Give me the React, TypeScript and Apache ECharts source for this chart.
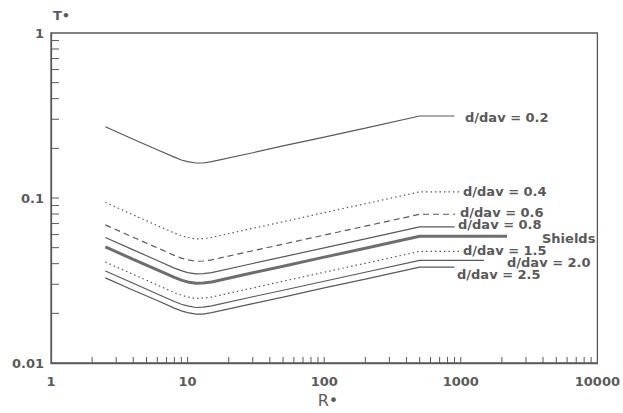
import React, { useEffect, useRef } from "react";
import * as echarts from "echarts";

// Reynolds-number abscissa points shared by all curves
const rStar = [2.5, 4, 6, 8, 9, 10, 11.5, 13, 15, 30, 50, 100, 200, 500];

const d02 = [0.27, 0.227, 0.196, 0.177, 0.17, 0.166, 0.163, 0.163, 0.166, 0.188, 0.207, 0.234, 0.265, 0.314];
const d04 = [0.094, 0.079, 0.068, 0.0614, 0.0591, 0.0577, 0.0565, 0.0567, 0.0577, 0.0655, 0.0718, 0.0815, 0.0923, 0.109];
const d06 = [0.0687, 0.0578, 0.0499, 0.0449, 0.0432, 0.0422, 0.0413, 0.0415, 0.0422, 0.0479, 0.0525, 0.0596, 0.0675, 0.0797];
const d08 = [0.0576, 0.0485, 0.0418, 0.0376, 0.0363, 0.0353, 0.0347, 0.0348, 0.0353, 0.0401, 0.044, 0.0499, 0.0565, 0.0668];
const shields = [0.0505, 0.0425, 0.0367, 0.033, 0.0318, 0.031, 0.0304, 0.0305, 0.031, 0.0352, 0.0386, 0.0438, 0.0496, 0.0586];
const d15 = [0.0409, 0.0344, 0.0297, 0.0267, 0.0258, 0.0251, 0.0246, 0.0247, 0.0251, 0.0285, 0.0313, 0.0355, 0.0402, 0.0475];
const d20 = [0.0361, 0.0304, 0.0262, 0.0236, 0.0227, 0.0222, 0.0217, 0.0218, 0.0222, 0.0252, 0.0276, 0.0313, 0.0355, 0.0419];
const d25 = [0.0328, 0.0276, 0.0239, 0.0215, 0.0207, 0.0202, 0.0198, 0.0198, 0.0202, 0.0229, 0.0251, 0.0285, 0.0322, 0.0381];

// R* where each curve's flat tail (leader to its label) ends
const tailEnd = { d02: 900, d04: 970, d06: 910, d08: 900, shields: 2180, d15: 970, d20: 1480, d25: 900 };

const curveNames = ["d/dav = 0.2", "d/dav = 0.4", "d/dav = 0.6", "d/dav = 0.8", "Shields", "d/dav = 1.5", "d/dav = 2.0", "d/dav = 2.5"];

const xMinorTicks = [2, 3, 4, 5, 6, 7, 8, 9, 10, 20, 30, 40, 50, 60, 70, 80, 90, 100, 200, 300, 400, 500, 600, 700, 800, 900, 1000, 2000, 3000, 4000, 5000, 6000, 7000, 8000, 9000];
const yMinorTicks = [0.02, 0.03, 0.04, 0.05, 0.06, 0.07, 0.08, 0.09, 0.1, 0.2, 0.3, 0.4, 0.5, 0.6, 0.7, 0.8, 0.9];

const INK = "#5a5a5a";
const FONT = "DejaVu Sans";

function fmt(v: number) {
  return String(Number(v.toPrecision(6)));
}

export default function App() {
  const ref = useRef<HTMLDivElement>(null);
  useEffect(() => {
    if (!ref.current) return;
    const chart = echarts.init(ref.current, undefined, { renderer: "svg" });

    const mk = (vals: number[], end: number) => {
      const pts = rStar.map((r, i) => [r, vals[i]]);
      pts.push([end, vals[vals.length - 1]]);
      return pts;
    };

    const lineSeries = (name: string, data: number[][], type: any, width: number, color = INK) => ({
      name,
      type: "line",
      data,
      showSymbol: false,
      symbol: "none",
      smooth: false,
      lineStyle: { color, width, type },
      z: 3,
    });

    const labelText = (text: string, x: number, y: number) => ({
      type: "text",
      x,
      y,
      style: { text, fill: INK, font: `bold 13px "${FONT}"`, verticalAlign: "middle", align: "left" },
    });

    chart.setOption({
      animation: false,
      backgroundColor: "#ffffff",
      grid: { left: 51, right: 22, top: 33, bottom: 50, show: true, borderColor: INK, borderWidth: 1.3, backgroundColor: "transparent" },
      xAxis: {
        type: "log",
        logBase: 10,
        min: 1,
        max: 10000,
        axisLine: { show: true, lineStyle: { color: INK, width: 1.3 } },
        axisTick: { show: false },
        splitLine: { show: false },
        axisLabel: { color: INK, fontFamily: FONT, fontWeight: "bold", fontSize: 13, margin: 12, formatter: (v: number) => fmt(v) },
      },
      yAxis: {
        type: "log",
        logBase: 10,
        min: 0.01,
        max: 1,
        axisLine: { show: true, lineStyle: { color: INK, width: 1.3 } },
        axisTick: { show: false },
        splitLine: { show: false },
        axisLabel: { color: INK, fontFamily: FONT, fontWeight: "bold", fontSize: 13, margin: 7, formatter: (v: number) => fmt(v) },
      },
      series: [
        lineSeries(curveNames[0], mk(d02, tailEnd.d02), "solid", 1.2),
        lineSeries(curveNames[1], mk(d04, tailEnd.d04), [1.5, 3], 1.2),
        lineSeries(curveNames[2], mk(d06, tailEnd.d06), [6, 4], 1.2),
        lineSeries(curveNames[3], mk(d08, tailEnd.d08), "solid", 1.2),
        lineSeries(curveNames[4], mk(shields, tailEnd.shields), "solid", 3, "#6e6e6e"),
        lineSeries(curveNames[5], mk(d15, tailEnd.d15), [1.5, 3], 1.2),
        lineSeries(curveNames[6], mk(d20, tailEnd.d20), "solid", 1.2),
        lineSeries(curveNames[7], mk(d25, tailEnd.d25), "solid", 1.2),
        {
          type: "custom",
          name: "xticks",
          data: xMinorTicks.map((v) => [v, 0.01]),
          encode: { x: 0, y: 1 },
          clip: false,
          silent: true,
          renderItem: (_p: any, api: any) => {
            const pt = api.coord([api.value(0), api.value(1)]);
            return { type: "line", shape: { x1: pt[0], y1: pt[1], x2: pt[0], y2: pt[1] - 6 }, style: { stroke: INK, lineWidth: 1 } };
          },
        },
        {
          type: "custom",
          name: "yticks",
          data: yMinorTicks.map((v) => [1, v]),
          encode: { x: 0, y: 1 },
          clip: false,
          silent: true,
          renderItem: (_p: any, api: any) => {
            const pt = api.coord([api.value(0), api.value(1)]);
            return { type: "line", shape: { x1: pt[0], y1: pt[1], x2: pt[0] + 8, y2: pt[1] }, style: { stroke: INK, lineWidth: 1 } };
          },
        },
      ],
      graphic: [
        { type: "text", x: 53, y: 15, style: { text: "T•", fill: INK, font: `bold 13px "${FONT}"`, verticalAlign: "middle", align: "left" } },
        { type: "text", x: 328, y: 400, style: { text: "R•", fill: INK, font: `16px "${FONT}"`, verticalAlign: "middle", align: "center" } },
        labelText(curveNames[0], 465, 117),
        labelText(curveNames[1], 463, 191),
        labelText(curveNames[2], 460, 212),
        labelText(curveNames[3], 458, 224),
        labelText(curveNames[4], 542, 238),
        labelText(curveNames[5], 463, 250),
        labelText(curveNames[6], 507, 262),
        labelText(curveNames[7], 457, 274),
      ],
    });
    return () => chart.dispose();
  }, []);
  return <div ref={ref} style={{ position: "fixed", left: 0, top: 0, width: 623, height: 413, background: "#fff" }} />;
}
